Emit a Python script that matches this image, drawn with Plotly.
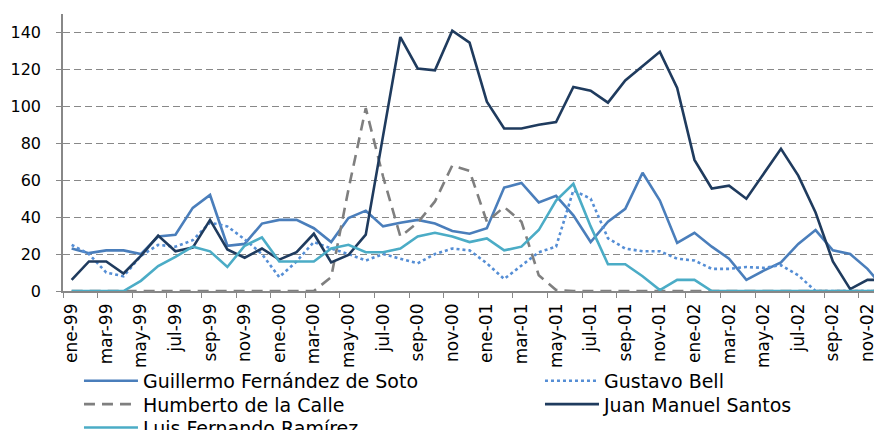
import plotly.graph_objects as go

mes = ["ene", "feb", "mar", "abr", "may", "jun", "jul", "ago", "sep", "oct", "nov", "dic"]
years = ["99", "00", "01", "02"]
months = [f"{m}-{y}" for y in years for m in mes]
tick_labels = months[::2]

guillermo = [23, 20.5, 22, 22, 20, 29.5, 30.5, 45, 52, 24.5, 25.5, 36.5,
             38.5, 38.5, 34, 26.5, 39.5, 43.5, 35, 37, 38.5, 36.5, 32.5, 31,
             34, 56, 58.5, 48, 51.5, 41, 26.5, 37.5, 44.5, 64, 49, 26,
             31.5, 24, 17.5, 6, 11, 15.5, 25.5, 33, 22, 20, 12, 1]
bell = [25, 20, 10, 8, 19, 25, 24, 27.5, 37, 35, 28, 20,
        7.5, 16, 26.5, 23, 20, 16.5, 20, 17.5, 15, 20, 23, 22,
        15, 6.5, 14, 21, 24, 54.5, 50, 28.5, 23, 21.5, 21.5, 17.5,
        16.5, 12, 12, 13, 12.5, 14, 8.5, 0, 0, 0, 0, 0]
humberto = [0, 0, 0, 0, 0, 0, 0, 0, 0, 0, 0, 0,
            0, 0, 0, 7.5, 55, 99, 62, 29.5, 37, 48.5, 68, 65,
            37.5, 45.5, 37.5, 8.5, 0.5, 0, 0, 0, 0, 0, 0, 0,
            0, 0, 0, 0, 0, 0, 0, 0, 0, 0, 0, 0]
santos = [6, 16, 16, 9.5, 19, 30, 21.5, 23.5, 38.5, 22.5, 18, 23,
          17, 21, 31, 15.5, 19.5, 30.5, 84, 137.5, 120.5, 119.5, 141, 134.5,
          102.5, 88, 88, 90, 91.5, 110.5, 108.5, 102, 114, 121.5, 129.5, 110,
          71, 55.5, 57, 50, 63.5, 77, 62.5, 42.5, 16, 1, 6, 6]
luis = [0, 0, 0, 0, 5.5, 13.5, 18.5, 24, 21.5, 13, 24.5, 29,
        16, 16, 16, 23, 25, 21, 21, 23, 29.5, 31.5, 29.5, 26.5,
        28.5, 22, 24, 33, 49, 58, 35, 14.5, 14.5, 8, 0.5, 6,
        6, 0, 0, 0, 0, 0, 0, 0, 0, 0, 0, 0]

# (name, values, colour, dash, legend id)
series = [
    ("Guillermo Fernández de Soto", guillermo, "#4a7ebb", "solid", "legend"),
    ("Gustavo Bell", bell, "#558ed5", "dot", "legend2"),
    ("Humberto de la Calle", humberto, "#7f7f7f", "11px,7px", "legend3"),
    ("Juan Manuel Santos", santos, "#1f3b5e", "solid", "legend4"),
    ("Luis Fernando Ramírez", luis, "#4bacc6", "solid", "legend5"),
]

x = list(range(len(months)))
fig = go.Figure()
for name, vals, color, dash, leg in series:
    fig.add_trace(go.Scatter(x=x, y=vals, mode="lines", name=name, legend=leg,
                             line=dict(color=color, width=2.6, dash=dash)))

grid = "#888888"
legfont = dict(family="DejaVu Sans", size=19, color="#000000")
col_x = [0.0195, 0.5824]
row_y = [-0.256, -0.3405, -0.4246]


def leg(cx, ry):
    return dict(orientation="v", x=col_x[cx], xanchor="left", y=row_y[ry], yanchor="top",
                font=legfont, itemwidth=54, bgcolor="rgba(0,0,0,0)")


fig.update_layout(
    width=874, height=422,
    margin=dict(l=55, r=0, t=6, b=139, autoexpand=False),
    paper_bgcolor="white", plot_bgcolor="white",
    font=dict(family="DejaVu Sans", color="#000000"),
    showlegend=True,
    legend=leg(0, 0), legend2=leg(1, 0), legend3=leg(0, 1), legend4=leg(1, 1), legend5=leg(0, 2),
    xaxis=dict(range=[-0.5, 46.84], tickmode="array", tickvals=x[::2], ticktext=tick_labels,
               tickangle=-90, ticks="", showgrid=False, zeroline=False,
               showline=True, linecolor=grid, linewidth=1.5, ticklabelstandoff=4,
               tickfont=dict(family="DejaVu Sans", size=17, color="#000000"),
               minor=dict(tickmode="array", tickvals=[v - 0.5 for v in x[::2]],
                          ticks="outside", ticklen=5, tickcolor=grid, tickwidth=1.2, showgrid=False)),
    yaxis=dict(range=[0, 150], tickmode="array", tickvals=list(range(0, 141, 20)),
               showgrid=True, gridcolor=grid, gridwidth=1, griddash="7px,4px",
               zeroline=False, showline=True, linecolor=grid, linewidth=1.5,
               ticks="outside", ticklen=5, tickcolor=grid, ticklabelstandoff=12,
               tickfont=dict(family="DejaVu Sans", size=16, color="#000000")),
)

fig.write_html("out.html")
